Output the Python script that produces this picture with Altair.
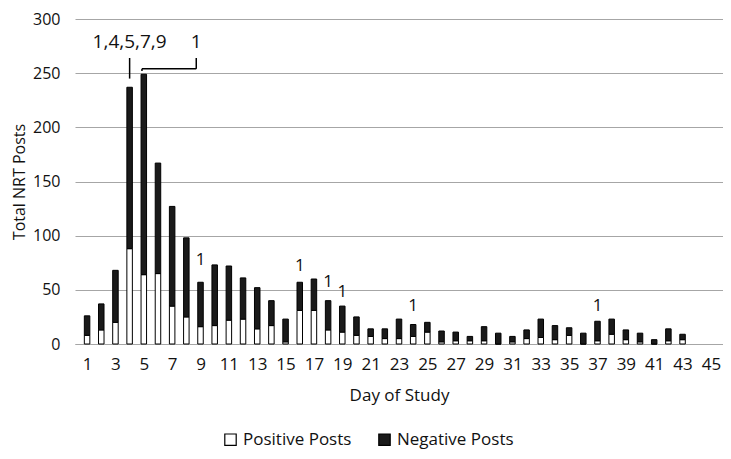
import altair as alt
import pandas as pd

days = list(range(1, 44))
totals = [26, 37, 68, 237, 249, 167, 127, 98, 57, 73,
          72, 61, 52, 40, 23, 57, 60, 40, 35, 25,
          14, 14, 23, 18, 20, 12, 11, 7, 16, 10,
          7, 13, 23, 17, 15, 10, 21, 23, 13, 10,
          4, 14, 9]
positive = [8, 13, 20, 88, 64, 65, 35, 25, 16, 17,
            22, 23, 14, 17, 2, 31, 31, 13, 11, 8,
            7, 5, 5, 7, 11, 2, 3, 3, 3, 0,
            2, 5, 6, 4, 8, 0, 3, 9, 4, 2,
            0, 3, 4]
negative = [t - p for t, p in zip(totals, positive)]

series_names = ["Positive Posts", "Negative Posts"]
x_ticks = list(range(1, 46, 2))
y_ticks = [0, 50, 100, 150, 200, 250, 300]

# small "1" annotations above bars
ann_days = [9, 16, 18, 19, 24, 37]
ann_y = [78, 72, 57, 48, 35, 35]
ann_text = ["1", "1", "1", "1", "1", "1"]

# top annotations
top_x = [4, 8.7]
top_y = [279, 279]
top_text = ["1,4,5,7,9", "1"]

# bracket / leader lines (x, x2, y, y2)
line_x = [4, 4.87, 8.7, 4.87]
line_x2 = [4, 8.7, 8.7, 4.87]
line_y = [245, 254, 254, 252]
line_y2 = [264, 254, 264, 254]

rows = []
for d, p, n in zip(days, positive, negative):
    rows.append({"day": d, "series": series_names[0], "value": p, "ord": 0})
    rows.append({"day": d, "series": series_names[1], "value": n, "ord": 1})
df = pd.DataFrame(rows)

ann_df = pd.DataFrame({"day": ann_days, "y": ann_y, "text": ann_text})
top_df = pd.DataFrame({"day": top_x, "y": top_y, "text": top_text})
line_df = pd.DataFrame({"x": line_x, "x2": line_x2, "y": line_y, "y2": line_y2})

FONT = "Open Sans"
TXT = "#111111"

x_scale = alt.Scale(domain=[0.5, 45.5], nice=False, zero=False)
y_scale = alt.Scale(domain=[0, 300], nice=False)

x_axis = alt.Axis(values=x_ticks, grid=False, ticks=False, domain=True,
                  domainColor="#a6a6a6", domainWidth=1.2,
                  labelFontSize=17, labelPadding=12, labelColor=TXT,
                  labelOverlap=False, labelFlush=False,
                  title="Day of Study", titleFontSize=17,
                  titleFontWeight="normal", titleColor=TXT,
                  titlePadding=15)
y_axis = alt.Axis(values=y_ticks, grid=True,
                  gridColor="#a6a6a6", gridWidth=1.2, ticks=False,
                  domain=False, labelFontSize=16, labelPadding=15,
                  labelColor=TXT, labelOverlap=False, title="Total NRT Posts",
                  titleFontSize=16, titleFontWeight="normal",
                  titleColor=TXT, titlePadding=5)

bars = alt.Chart(df).mark_bar(size=5.5, stroke="black", strokeWidth=1).encode(
    x=alt.X("day:Q", scale=x_scale, axis=x_axis),
    y=alt.Y("value:Q", stack="zero", scale=y_scale, axis=y_axis),
    color=alt.Color("series:N",
                    scale=alt.Scale(domain=series_names, range=["white", "#1a1a1a"]),
                    sort=series_names,
                    legend=alt.Legend(title=None, orient="none", direction="horizontal",
                                      legendX=147, legendY=412, symbolType="square",
                                      symbolSize=130, symbolStrokeColor="black",
                                      symbolStrokeWidth=1.2, labelFontSize=17,
                                      labelColor=TXT, columnPadding=24,
                                      labelOffset=4)),
    order=alt.Order("ord:Q"),
)

ann = alt.Chart(ann_df).mark_text(fontSize=17, color=TXT, baseline="middle").encode(
    x=alt.X("day:Q", scale=x_scale, axis=x_axis),
    y=alt.Y("y:Q", scale=y_scale, axis=y_axis),
    text="text:N",
)

top = alt.Chart(top_df).mark_text(fontSize=19, color=TXT, baseline="middle").encode(
    x=alt.X("day:Q", scale=x_scale, axis=x_axis),
    y=alt.Y("y:Q", scale=y_scale, axis=y_axis),
    text="text:N",
)

lines = alt.Chart(line_df).mark_rule(color="black", strokeWidth=1.5).encode(
    x=alt.X("x:Q", scale=x_scale, axis=x_axis),
    x2="x2:Q",
    y=alt.Y("y:Q", scale=y_scale, axis=y_axis),
    y2="y2:Q",
)

chart = alt.layer(bars, ann, top, lines).properties(
    width=648, height=325,
    autosize=alt.AutoSizeParams(type="none"),
    padding={"left": 67, "top": 11, "right": 0, "bottom": 107},
).configure(font=FONT).configure_view(stroke=None).configure_axis(labelOverlap=False)

chart.save("out.html", embed_options={"renderer": "svg", "actions": False})
